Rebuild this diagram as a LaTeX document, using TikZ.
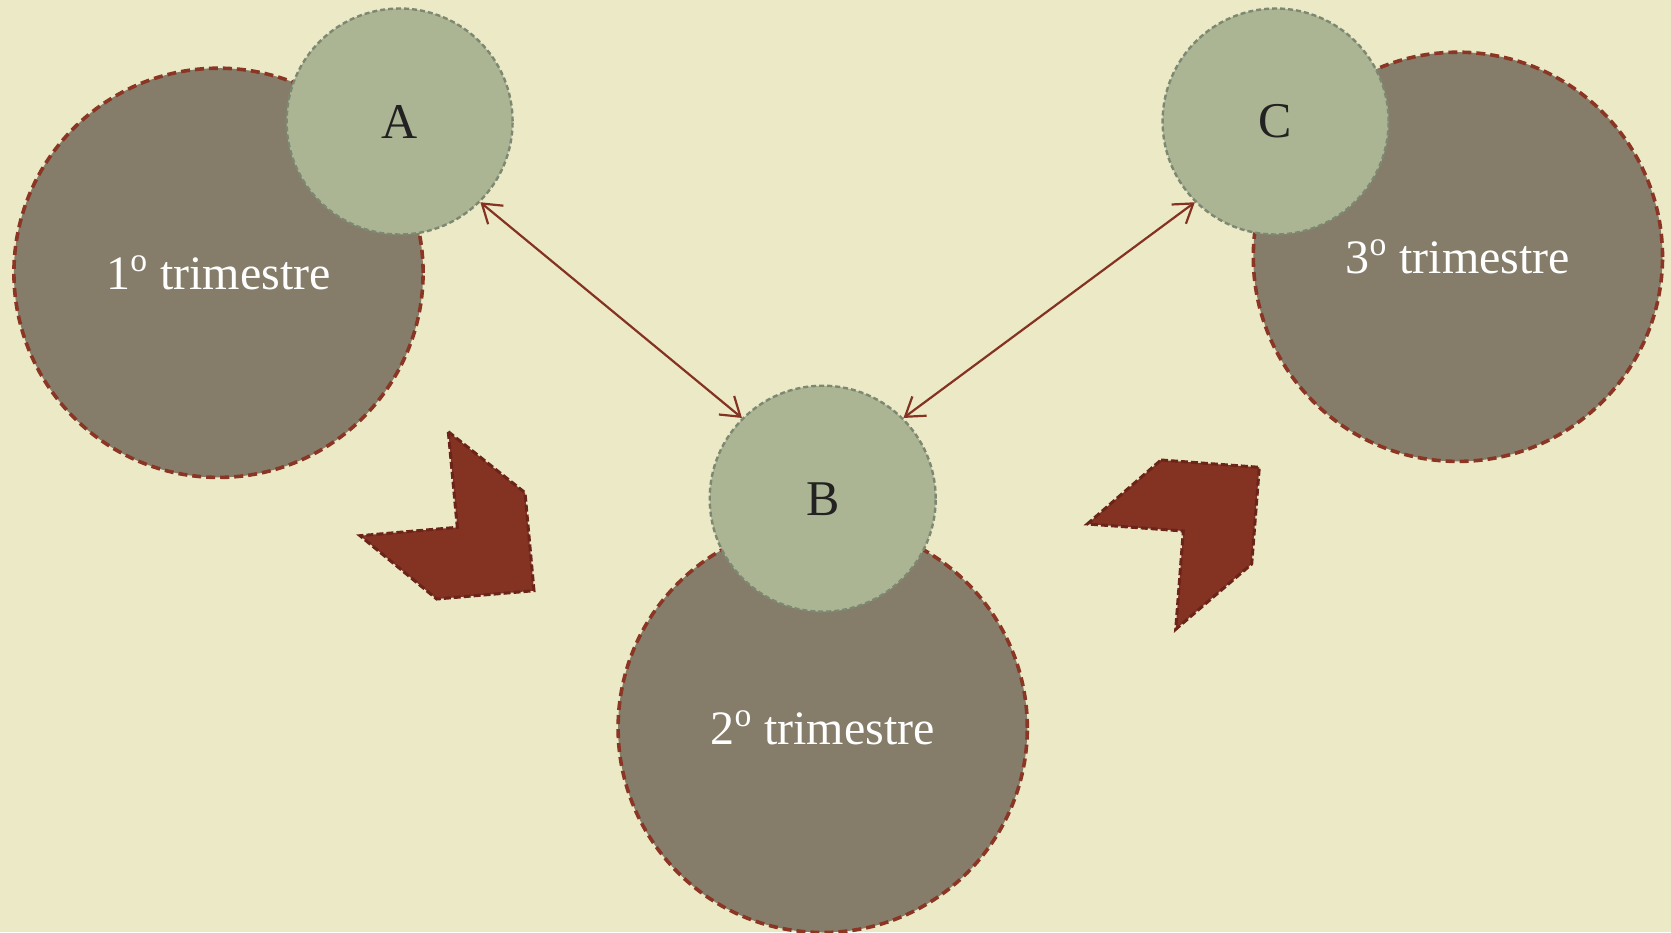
\documentclass[tikz,border=0pt]{standalone}
\usepackage{fontspec}
\setmainfont{Liberation Serif}
\usetikzlibrary{arrows.meta}
\definecolor{bgc}{HTML}{ECE9C6}
\definecolor{bigfill}{HTML}{857D6A}
\definecolor{smallfill}{HTML}{ABB593}
\definecolor{bigborder}{HTML}{8B3525}
\definecolor{smallborder}{HTML}{7D8872}
\definecolor{arrowc}{HTML}{843222}
\definecolor{chevfill}{HTML}{843222}
\definecolor{chevborder}{HTML}{6A2419}
\definecolor{lettc}{HTML}{222222}
\tikzset{
  bigcircle/.style={circle, fill=bigfill, draw=bigborder, line width=1.8pt,
    dash pattern=on 4.5pt off 2.5pt, minimum size=204.6pt, inner sep=0pt,
    text=white, font=\fontsize{24}{28}\selectfont},
  smallcircle/.style={circle, fill=smallfill, draw=smallborder, line width=1.2pt,
    dash pattern=on 2.5pt off 1.5pt, minimum size=113pt, inner sep=0pt,
    text=lettc, font=\fontsize{25}{30}\selectfont},
  link/.style={draw=arrowc, line width=1.1pt, {Straight Barb[length=9pt,width=12pt]}-{Straight Barb[length=9pt,width=12pt]}},
  chevron/.style={fill=chevfill, draw=chevborder, line width=1.5pt, dash pattern=on 3.5pt off 1.5pt, line join=miter}
}
\begin{document}
\begin{tikzpicture}[x=0.5pt,y=-0.5pt]
\useasboundingbox (0,0) rectangle (1671,932);
\fill[bgc] (0,0) rectangle (1671,932);
% big circles
\node[bigcircle] (t1) at (218.5,272.8) {1\textsuperscript{o} trimestre};
\node[bigcircle] (t3) at (1457.9,256.8) {3\textsuperscript{o} trimestre};
\node[bigcircle] (t2) at (822.7,727.9) {2\textsuperscript{o} trimestre};
% small circles
\node[smallcircle] (a) at (399.6,121.5) {A};
\node[smallcircle] (c) at (1275.6,121.5) {C};
\node[smallcircle] (b) at (822.7,498.7) {B};
% connectors
\draw[link] (a.-45) -- (b.135);
\draw[link] (c.-135) -- (b.45);
% chevrons
\draw[chevron] (448.3,431.7) -- (525,492.7) -- (534,590.7) -- (436.7,599) -- (360,535.7) -- (457.3,527.3) -- cycle;
\draw[chevron] (1161,460) -- (1259.3,467.3) -- (1251.7,564) -- (1175.7,629.3) -- (1183.3,531) -- (1087.3,524) -- cycle;
\end{tikzpicture}
\end{document}
